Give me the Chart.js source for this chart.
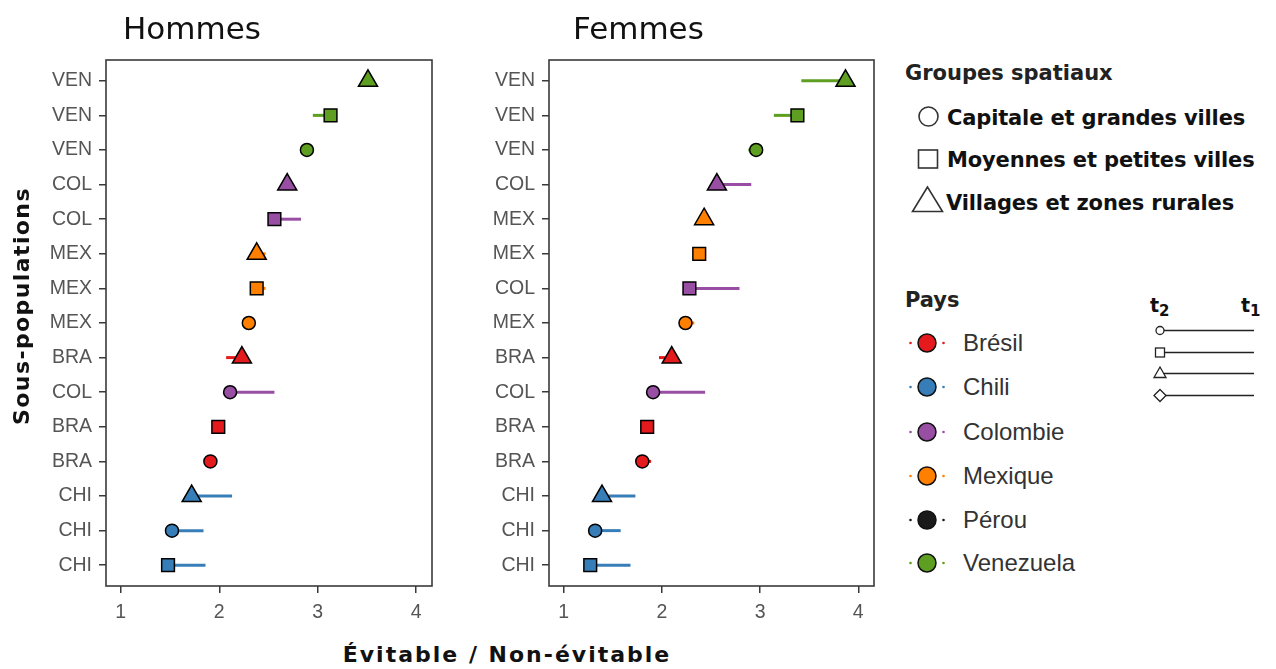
<!DOCTYPE html>
<html>
<head>
<meta charset="utf-8">
<script src="https://cdn.jsdelivr.net/npm/chart.js@4.4.1/dist/chart.umd.min.js"></script>
<style>
  body { margin: 0; background: #fff; }
  #wrap { position: relative; width: 1276px; height: 669px; overflow: hidden; font-family: "DejaVu Sans", sans-serif; }
  .abs { position: absolute; white-space: nowrap; }
  canvas { position: absolute; top: 0; }
  .panel-title { font-size: 31px; line-height: 31px; color: #111; }
  .axis-title { font-weight: bold; font-size: 22px; letter-spacing: 1.4px; line-height: 26px; color: #111; }
  .axis-title.x { letter-spacing: 2px; }
  .lg-head { font-weight: bold; font-size: 21px; line-height: 24px; height: 24px; color: #222; }
  .lg-shape { font-weight: bold; font-size: 21px; line-height: 24px; height: 24px; color: #111; letter-spacing: -0.15px; }
  .lg-pays { font-family: "Liberation Sans", Arial, sans-serif; font-size: 24px; line-height: 28px; height: 28px; color: #333; }
  .tlab { font-weight: bold; font-size: 19px; line-height: 20px; color: #111; }
  .tlab sub { font-size: 15px; vertical-align: -4px; }
</style>
</head>
<body>
<div id="wrap">
  <canvas id="hommes" width="440" height="630" style="left:0px"></canvas>
  <canvas id="femmes" width="440" height="630" style="left:445px"></canvas>

  <div class="abs panel-title" style="left:123px;top:13px">Hommes</div>
  <div class="abs panel-title" style="left:573px;top:13px">Femmes</div>
  <div class="abs axis-title" style="left:22px;top:306px;transform:translate(-50%,-50%) rotate(-90deg)">Sous-populations</div>
  <div class="abs axis-title x" style="left:207px;width:600px;text-align:center;top:642px">Évitable / Non-évitable</div>

  <div class="abs lg-head" style="left:905px;top:61px">Groupes spatiaux</div>
  <div class="abs lg-shape" style="left:947px;top:106px">Capitale et grandes villes</div>
  <div class="abs lg-shape" style="left:947px;top:148px">Moyennes et petites villes</div>
  <div class="abs lg-shape" style="left:946px;top:191px">Villages et zones rurales</div>

  <div class="abs lg-head" style="left:905px;top:288px">Pays</div>
  <div id="pays"></div>

  <div class="abs tlab" style="left:1150px;top:295px">t<sub>2</sub></div>
  <div class="abs tlab" style="left:1241px;top:295px">t<sub>1</sub></div>

  <svg class="abs" style="left:0;top:0" width="1276" height="669">
    <g fill="none" stroke="#333" stroke-width="1.6">
      <circle cx="928.5" cy="116.5" r="9.5"/>
      <rect x="918.5" y="150" width="19" height="18"/>
      <polygon points="927.5,187 912.5,211.5 942.5,211.5"/>
    </g>
    <g id="paysKeys"></g>
    <g stroke="#222" stroke-width="1.3" fill="#fff">
      <line x1="1162" y1="330.5" x2="1254" y2="330.5"/>
      <line x1="1162" y1="352.5" x2="1254" y2="352.5"/>
      <line x1="1162" y1="373.5" x2="1254" y2="373.5"/>
      <line x1="1162" y1="395.5" x2="1254" y2="395.5"/>
      <circle cx="1160" cy="330.5" r="4"/>
      <rect x="1155.5" y="348" width="9" height="9"/>
      <polygon points="1160,367 1154,377.5 1166,377.5"/>
      <polygon points="1160,389.5 1166,395.5 1160,401.5 1154,395.5"/>
    </g>
  </svg>
</div>

<script>
// country colours and legend names
var countryCodes = ['BRA', 'CHI', 'COL', 'MEX', 'PER', 'VEN'];
var countryNames = ['Brésil', 'Chili', 'Colombie', 'Mexique', 'Pérou', 'Venezuela'];
var countryColors = ['#E41A1C', '#377EB8', '#984EA3', '#FF7F00', '#1A1A1A', '#5E9F22'];

var xTicks = [1, 2, 3, 4];

// Hommes, rows from top to bottom
var hommesLabels = ['VEN', 'VEN', 'VEN', 'COL', 'COL', 'MEX', 'MEX', 'MEX', 'BRA', 'COL', 'BRA', 'BRA', 'CHI', 'CHI', 'CHI'];
var hommesShapes = ['triangle', 'square', 'circle', 'triangle', 'square', 'triangle', 'square', 'circle', 'triangle', 'circle', 'square', 'circle', 'triangle', 'circle', 'square'];
var hommesT2 = [3.51, 3.13, 2.89, 2.69, 2.56, 2.38, 2.38, 2.30, 2.23, 2.11, 1.99, 1.91, 1.72, 1.52, 1.48];
var hommesT1 = [3.51, 2.95, 2.87, 2.69, 2.83, 2.47, 2.47, 2.30, 2.07, 2.56, 1.99, 1.91, 2.13, 1.84, 1.86];

// Femmes, rows from top to bottom
var femmesLabels = ['VEN', 'VEN', 'VEN', 'COL', 'MEX', 'MEX', 'COL', 'MEX', 'BRA', 'COL', 'BRA', 'BRA', 'CHI', 'CHI', 'CHI'];
var femmesShapes = ['triangle', 'square', 'circle', 'triangle', 'triangle', 'square', 'square', 'circle', 'triangle', 'circle', 'square', 'circle', 'triangle', 'circle', 'square'];
var femmesT2 = [3.87, 3.38, 2.96, 2.56, 2.43, 2.38, 2.28, 2.24, 2.10, 1.91, 1.85, 1.80, 1.39, 1.32, 1.27];
var femmesT1 = [3.42, 3.14, 2.88, 2.91, 2.43, 2.38, 2.79, 2.33, 1.97, 2.44, 1.85, 1.89, 1.73, 1.58, 1.68];

var shapeStyle = { circle: 'circle', square: 'rect', triangle: 'triangle' };
var shapeRadius = { circle: 6.5, square: 9, triangle: 11 };

function colorOf(code) {
    return countryColors[countryCodes.indexOf(code)];
}

var panelFrame = {
    id: 'panelFrame',
    afterDatasetsDraw: function(chart) {
        var a = chart.chartArea, ctx = chart.ctx;
        ctx.save();
        ctx.strokeStyle = '#3a3a3a';
        ctx.lineWidth = 1.6;
        ctx.strokeRect(a.left, a.top, a.right - a.left, a.bottom - a.top);
        ctx.restore();
    }
};

function makePanel(id, labels, shapes, t2, t1, yWidth, padRight) {
    var n = labels.length;
    var datasets = [];
    // t2 -> t1 segments, drawn under the markers
    for (var i = 0; i < n; i++) {
        datasets.push({
            data: [{ x: t2[i], y: n - 1 - i }, { x: t1[i], y: n - 1 - i }],
            showLine: true,
            borderColor: colorOf(labels[i]),
            borderWidth: 3,
            pointRadius: 0,
            order: 2
        });
    }
    datasets.push({
        data: t2.map(function(v, i) { return { x: v, y: n - 1 - i }; }),
        pointStyle: shapes.map(function(s) { return shapeStyle[s]; }),
        pointRadius: shapes.map(function(s) { return shapeRadius[s]; }),
        pointBackgroundColor: labels.map(colorOf),
        pointBorderColor: '#000',
        pointBorderWidth: 1.5,
        order: 1
    });

    var tickFont = { family: '"Liberation Sans", Arial, sans-serif', size: 19.5 };
    var grid = { drawOnChartArea: false, drawTicks: true, tickLength: 7, color: '#3a3a3a', lineWidth: 1.5 };

    return new Chart(document.getElementById(id).getContext('2d'), {
        type: 'scatter',
        data: { datasets: datasets },
        options: {
            responsive: false,
            animation: false,
            events: [],
            layout: { autoPadding: false, padding: { top: 60, right: padRight, bottom: 0, left: 0 } },
            plugins: { legend: { display: false }, tooltip: { enabled: false } },
            scales: {
                x: {
                    type: 'linear', min: 0.85, max: 4.16,
                    afterBuildTicks: function(s) { s.ticks = xTicks.map(function(v) { return { value: v }; }); },
                    afterFit: function(s) { s.height = 44; s.paddingLeft = 0; s.paddingRight = 0; },
                    ticks: { font: tickFont, color: '#555', padding: 8 },
                    grid: grid,
                    border: { display: false }
                },
                y: {
                    type: 'linear', min: -0.6, max: n - 1 + 0.6,
                    afterBuildTicks: function(s) { s.ticks = labels.map(function(l, i) { return { value: i }; }); },
                    afterFit: function(s) { s.width = yWidth; s.paddingTop = 0; s.paddingBottom = 0; },
                    ticks: {
                        font: tickFont, color: '#555', padding: 7,
                        callback: function(v) { return labels[n - 1 - v]; }
                    },
                    grid: grid,
                    border: { display: false }
                }
            }
        },
        plugins: [panelFrame]
    });
}

makePanel('hommes', hommesLabels, hommesShapes, hommesT2, hommesT1, 106, 8);
makePanel('femmes', femmesLabels, femmesShapes, femmesT2, femmesT1, 104, 11);

// Pays legend
var paysRows = [343, 387, 432, 476, 520, 563];
var keys = '';
var html = '';
for (var k = 0; k < countryCodes.length; k++) {
    var cy = paysRows[k], col = countryColors[k];
    keys += '<circle cx="910.5" cy="' + cy + '" r="1.3" fill="' + col + '"/>' +
            '<circle cx="943.5" cy="' + cy + '" r="1.3" fill="' + col + '"/>' +
            '<circle cx="927" cy="' + cy + '" r="9" fill="' + col + '" stroke="#111" stroke-width="1.5"/>';
    html += '<div class="abs lg-pays" style="left:963px;top:' + (cy - 14) + 'px">' + countryNames[k] + '</div>';
}
document.getElementById('paysKeys').innerHTML = keys;
document.getElementById('pays').innerHTML = html;
</script>
</body>
</html>
